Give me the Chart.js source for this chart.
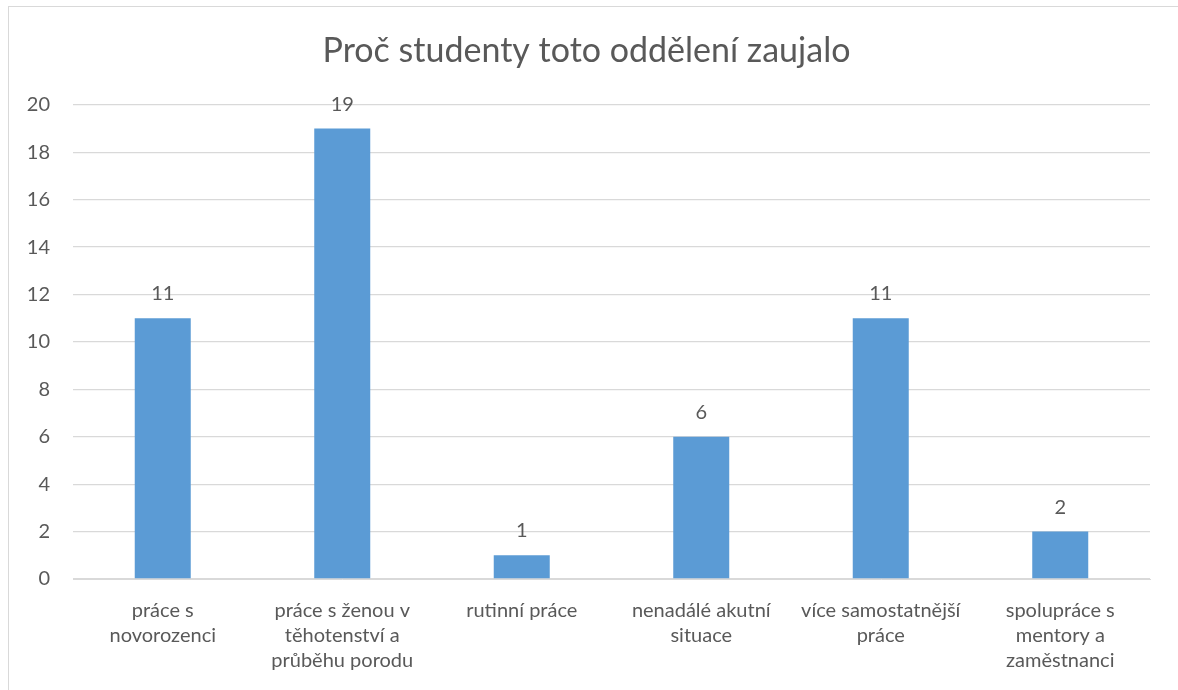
<!DOCTYPE html>
<html>
<head>
<meta charset="utf-8">
<script src="https://cdn.jsdelivr.net/npm/chart.js@4"></script>
<style>
  body { margin: 0; background: #fff; }
  #wrap { position: relative; width: 1178px; height: 690px; overflow: hidden; }
  #frame { position: absolute; left: 8px; top: 6px; width: 1200px; height: 720px; border: 1px solid #d9d9d9; box-sizing: border-box; }
  canvas { position: absolute; left: 0; top: 0; }
</style>
</head>
<body>
<div id="wrap">
  <div id="frame"></div>
  <canvas id="reasonChart" width="1178" height="690"></canvas>
</div>
<script>
const chartTitle = 'Proč studenty toto oddělení zaujalo';
const categories = [
  ['práce s', 'novorozenci'],
  ['práce s ženou v', 'těhotenství a', 'průběhu porodu'],
  ['rutinní práce'],
  ['nenadálé akutní', 'situace'],
  ['více samostatnější', 'práce'],
  ['spolupráce s', 'mentory a', 'zaměstnanci']
];
const counts = [11, 19, 1, 6, 11, 2];
const yTicks = [0, 2, 4, 6, 8, 10, 12, 14, 16, 18, 20];

const textColor = '#595959';
const fontFamily = 'Lato, "Open Sans", sans-serif';

// popisky hodnot nad sloupci
const valueLabels = {
  id: 'valueLabels',
  afterDatasetsDraw(chart) {
    const ctx = chart.ctx;
    const meta = chart.getDatasetMeta(0);
    ctx.save();
    ctx.fillStyle = textColor;
    ctx.font = '20px ' + fontFamily;
    ctx.textAlign = 'center';
    ctx.textBaseline = 'alphabetic';
    meta.data.forEach(function (bar, i) {
      ctx.fillText(String(counts[i]), bar.x, bar.y - 18);
    });
    ctx.restore();
  }
};

const ctx = document.getElementById('reasonChart').getContext('2d');

const chart = new Chart(ctx, {
  type: 'bar',
  data: {
    labels: categories,
    datasets: [
      {
        data: counts,
        backgroundColor: '#5B9BD5',
        borderWidth: 0,
        categoryPercentage: 1,
        barPercentage: 0.312
      }
    ]
  },
  options: {
    responsive: false,
    animation: false,
    layout: { padding: { left: 23, right: 28, top: 0, bottom: 6 } },
    plugins: {
      legend: { display: false },
      tooltip: { enabled: false },
      title: {
        display: true,
        text: chartTitle,
        color: textColor,
        font: { family: fontFamily, size: 34, weight: 'normal', lineHeight: 1.2 },
        padding: { top: 31, bottom: 33 }
      }
    },
    scales: {
      x: {
        grid: { display: false },
        border: { color: '#d9d9d9', width: 1 },
        ticks: {
          color: textColor,
          font: { family: fontFamily, size: 20, lineHeight: 1.25 },
          padding: 11,
          maxRotation: 0,
          autoSkip: false
        }
      },
      y: {
        min: 0,
        max: 20,
        afterBuildTicks(scale) {
          scale.ticks = yTicks.map(function (v) { return { value: v }; });
        },
        afterFit(scale) {
          scale.width = 50;
        },
        grid: { color: '#d9d9d9', lineWidth: 1.3, drawTicks: false },
        border: { display: false },
        ticks: {
          color: textColor,
          font: { family: fontFamily, size: 20 },
          padding: 23
        }
      }
    }
  },
  plugins: [valueLabels]
});
</script>
</body>
</html>
